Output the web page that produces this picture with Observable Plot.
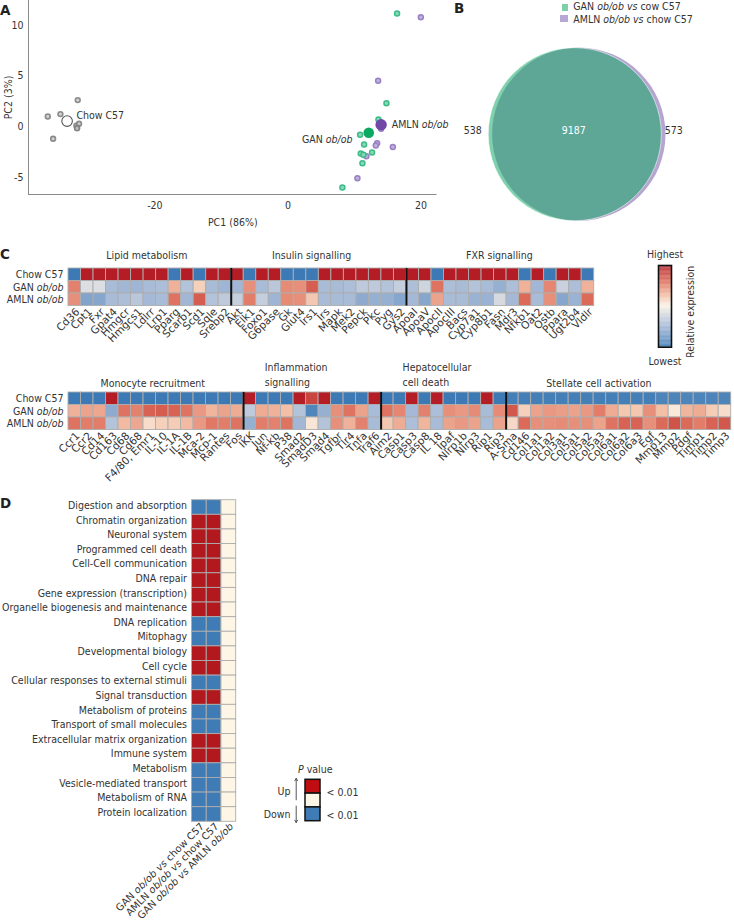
<!DOCTYPE html>
<html><head><meta charset="utf-8">
<script src="https://cdn.jsdelivr.net/npm/d3@7"></script>
<script src="https://cdn.jsdelivr.net/npm/@observablehq/plot@0.6"></script>
<style>
html,body{margin:0;padding:0;background:#fff}
#page{position:relative;width:734px;height:924px;overflow:hidden;color:#333;font-family:"DejaVu Sans Condensed","DejaVu Sans",sans-serif;font-size:10.5px}
#page svg{position:absolute;overflow:visible;background:transparent}
.abs{position:absolute;white-space:nowrap;line-height:1}
.letter{font-family:"DejaVu Sans",sans-serif;font-weight:700;font-size:13.5px;color:#222}
.sw{position:absolute}
</style></head><body><div id="page"></div>
<script>
const FONT='"DejaVu Sans Condensed","DejaVu Sans",sans-serif', FS=10.5, WIDE='"DejaVu Sans",sans-serif';
// Panel A
const chowX=[-36.1,-34.2,-31.6,-35.3,-31.7,-31.8,-31.4,-31.7];
const chowY=[1.02,1.25,2.63,-1.18,-0.1,0.1,0.3,-0.15];
const ganX=[16.4,14.8,13.6,10.84,11.44,10.94,11.34,12.64,11.19,8.18];
const ganY=[11.17,2.33,0.72,-0.79,-1.74,-2.63,-2.76,-2.53,-3.58,-5.98];
const amlnX=[19.97,13.55,13.4,13.2,15.76,11.79,10.44,14.0];
const amlnY=[10.8,4.53,-1.61,-1.84,-2.0,-2.89,-5.06,-0.2];
const meanX=[-33.2,12.14,14.0], meanY=[0.56,-0.59,0.2];
// Panel B
const vennSizes=[9725,9760], vennOnly=["538","9187","573"];
// Panel C
const rowNames=["Chow C57","GAN ob/ob","AMLN ob/ob"];
const genesTop=["Cd36","Cpt1","Fxr","Gpat4","Hmgcr","Hmgcs1","Ldlrr","Lrp1","Pparg","Scarb1","Scd1","Sqle","Srebp2","Akt","Elk1","Foxo1","G6pase","Gk","Glut4","Irs1","Irs","Mapk","Mek2","Pepck","Pkc","Pyg","Gys2","ApoaI","ApoaV","ApocII","ApocIII","Bacs","Cyp7a1","Cyp8b1","Fasn","Mdr3","Nfkb1","Oat2","Ostb","Ppara","Ugt2b4","Vldlr"];
const chowTop=[0,1,1,1,1,1,1,1,0,1,0,1,1,1,0,1,1,0,0,0,1,1,1,1,1,1,1,1,1,0,1,1,1,1,1,1,0,1,0,1,1,0];
const ganTop=[.75,.42,.42,.27,.25,.24,.27,.28,.65,.3,.58,.27,.24,.25,.72,.27,.32,.73,.72,.83,.27,.27,.28,.33,.33,.3,.35,.28,.38,.78,.28,.27,.3,.27,.22,.28,.65,.25,.74,.36,.28,.65];
const amlnTop=[.72,.17,.18,.27,.28,.32,.26,.27,.78,.25,.83,.3,.33,.35,.76,.35,.24,.73,.72,.6,.27,.27,.27,.2,.22,.22,.18,.26,.18,.68,.27,.27,.23,.23,.4,.26,.8,.27,.72,.18,.23,.8];
const genesBot=["Ccr1","Ccr2","Cd14","Cd163","Cd68","Cd68","F4/80, Emr1","IL-10","IL-1A","IL-1B","Mca-2","Mcp-1","Rantes","Fos","IKK","Jun","Nf-kb","P38","Smad2","SmadD3","Smad4","Tgfbr","Tlr4","Tnfa","Traf6","Aim2","Casp1","Casp3","Casp8","IL 18","Ipaf","Nlrp1b","Nlrp3","Rip1","Rip3","A-Sma","Cd146","Col1a1","Col1a2","Col3a1","Col5a1","Col5a2","Col5a3","Col6a1","Col6a2","Col6a3","Egf","Mmp13","Mmp2","Pdgf","Timp1","Timp2","Timp3"];
const chowBot=[0,0,0,1,0,0,0,0,0,0,0,0,0,0,1,0,0,0,1,.9,1,0,0,0,1,0,0,1,0,1,0,0,0,1,0,.02,.02,.02,.02,.02,.02,.02,.02,.02,.02,.02,.02,.04,.04,.04,.04,.04,.04];
const ganBot=[.65,.68,.67,.2,.78,.75,.82,.83,.82,.78,.7,.64,.68,.66,.33,.66,.65,.62,.3,.05,.22,.72,.78,.68,.27,.78,.74,.26,.75,.28,.72,.7,.73,.27,.73,.85,.58,.68,.7,.69,.68,.7,.76,.66,.6,.6,.72,.62,.52,.64,.66,.59,.55];
const amlnBot=[.78,.76,.76,.3,.63,.67,.55,.58,.59,.63,.7,.77,.76,.78,.22,.76,.75,.78,.25,.53,.3,.72,.65,.75,.27,.6,.66,.28,.64,.27,.68,.7,.68,.27,.68,.56,.8,.72,.72,.73,.72,.72,.68,.78,.82,.82,.72,.8,.86,.8,.76,.82,.85];
const colorStops=[0,.25,.5,.62,.8,1];
const colorRange=["#3d7ab5","#a2b7d6","#f9f1e6","#f3bfa6","#dc6a58","#b51d26"];
// Panel D
const pathways=["Digestion and absorption","Chromatin organization","Neuronal system","Programmed cell death","Cell-Cell communication","DNA repair","Gene expression (transcription)","Organelle biogenesis and maintenance","DNA replication","Mitophagy","Developmental biology","Cell cycle","Cellular responses to external stimuli","Signal transduction","Metabolism of proteins","Transport of small molecules","Extracellular matrix organization","Immune system","Metabolism","Vesicle-mediated transport","Metabolism of RNA","Protein localization"];
const comparisons=["GAN ob/ob vs chow C57","AMLN ob/ob vs chow C57","GAN ob/ob vs AMLN ob/ob"];
const ganVsChow=[-1,1,1,1,1,1,1,1,-1,-1,1,1,-1,1,-1,-1,1,1,-1,-1,-1,-1];
const amlnVsChow=[-1,1,1,1,1,1,1,1,-1,-1,1,1,-1,1,-1,-1,1,1,-1,-1,-1,-1];
const ganVsAmln=pathways.map(()=>0);
const pLevels=[1,0,-1], pColors=["#b2191e","#fdf6e6","#3f7cb6"];

const page=document.getElementById("page");
const NS="http://www.w3.org/2000/svg";
function ital(svg){
  svg.querySelectorAll("text,tspan").forEach(el=>{
    if(el.children.length) return;
    const t=el.textContent;
    if(!/(ob\/ob|\bvs\b)/.test(t)) return;
    el.textContent="";
    t.split(/(ob\/ob|\bvs\b)/).forEach(p=>{
      if(!p) return;
      const s=document.createElementNS(NS,"tspan");
      s.textContent=p;
      if(/^(ob\/ob|vs)$/.test(p)) s.setAttribute("font-style","italic");
      el.append(s);
    });
  });
}
function put(opts,left,top){
  const svg=Plot.plot({...opts,style:{fontFamily:FONT,fontSize:FS+"px",color:"#333",background:"transparent",overflow:"visible"}});
  svg.style.left=left+"px"; svg.style.top=top+"px";
  ital(svg); page.append(svg); return svg;
}
function html(cls,left,top,inner,extra=""){
  const d=document.createElement("div"); d.className=cls; d.style.cssText=`left:${left}px;top:${top}px;${extra}`; d.innerHTML=inner; page.append(d);
}
const zip=(xs,ys)=>xs.map((x,i)=>({x,y:ys[i]}));

// ---------- Panel A
put({
  width:734,height:230,marginLeft:28,marginRight:297.5,marginTop:0,marginBottom:36,
  x:{domain:[-39,22.4]},y:{domain:[-6.67,12.44]},
  marks:[
    Plot.ruleX([-39],{stroke:"#8a8a8a",strokeWidth:1}),
    Plot.ruleY([-6.67],{stroke:"#8a8a8a",strokeWidth:1}),
    Plot.axisX({ticks:[-20,0,20],tickFormat:d=>String(d),tickSize:0,tickPadding:7,label:"PC1 (86%)",labelAnchor:"center",labelArrow:"none",labelOffset:31}),
    Plot.axisY({ticks:[-5,0,5,10],tickFormat:d=>String(d),tickSize:0,tickPadding:5,label:"PC2 (3%)",labelAnchor:"center",labelArrow:"none",labelOffset:24}),
    Plot.dot(zip(chowX,chowY),{x:"x",y:"y",r:2.4,stroke:"#7f7f7f",strokeOpacity:.9,strokeWidth:1.6,fill:"#c8c8c8",fillOpacity:.8}),
    Plot.dot(zip(amlnX,amlnY),{x:"x",y:"y",r:2.5,fill:"#c0b0da",stroke:"#9a80c4",strokeWidth:1.5}),
    Plot.dot(zip(ganX,ganY),{x:"x",y:"y",r:2.5,fill:"#8ad8b8",stroke:"#3dbb88",strokeWidth:1.5}),
    Plot.dot(zip(meanX,meanY).slice(0,1),{x:"x",y:"y",r:5.3,stroke:"#555",strokeWidth:1.1,fill:"#fff"}),
    Plot.dot(zip(meanX,meanY).slice(1,2),{x:"x",y:"y",r:5.3,fill:"#0ba961"}),
    Plot.dot(zip(meanX,meanY).slice(2,3),{x:"x",y:"y",r:5.7,fill:"#6f48a8"}),
    Plot.text(["Chow C57"],{x:()=>-31.8,y:()=>1.1,textAnchor:"start"}),
    Plot.text(["AMLN ob/ob"],{x:()=>15.6,y:()=>0.2,textAnchor:"start"}),
    Plot.text(["GAN ob/ob"],{x:()=>2.1,y:()=>-1.25,textAnchor:"start"})
  ]
},0,0);

// ---------- Panel B
put({
  width:294,height:230,margin:0,
  x:{axis:null,domain:[-136.3,157.7]},y:{axis:null,domain:[-133.7,96.3],range:[0,230]},
  r:{domain:[0,9760],range:[0,86.7]},
  marks:[
    Plot.dot([{x:2,s:vennSizes[1]}],{x:"x",y:()=>0,r:"s",fill:"#b5a5d0"}),
    Plot.dot([{x:-2,s:vennSizes[0]}],{x:"x",y:()=>0,r:"s",fill:"#16a968",fillOpacity:.55,stroke:"#fff",strokeOpacity:.7,strokeWidth:.8}),
    Plot.text([vennOnly[0]],{x:()=>-104,y:()=>-4}),
    Plot.text([vennOnly[1]],{x:()=>-3,y:()=>-4,fill:"#fff"}),
    Plot.text([vennOnly[2]],{x:()=>97,y:()=>-4})
  ]
},440,0);
html("abs letter",454,2,"B");
html("abs letter",0,3.5,"A");
html("abs letter",0,248,"C");
html("abs letter",0,497,"D");
html("sw",561.7,4,"","width:6.6px;height:7px;background:#7dd0aa");
html("sw",560,15,"","width:8px;height:7px;background:#b7a7d4");
html("abs",573.3,0.5,"GAN <i>ob/ob</i> <i>vs</i> cow C57");
html("abs",573.3,14,"AMLN <i>ob/ob</i> <i>vs</i> chow C57");

// ---------- Panel C
function heat(names,rows,opts,extra){
  const data=[];
  rows.forEach((r,j)=>r.forEach((v,i)=>data.push({i,row:rowNames[j],v})));
  return {
    width:734,...opts,
    x:{type:"band",domain:d3.range(names.length),padding:0,round:false},
    y:{type:"band",domain:rowNames,padding:0,round:false},
    color:{type:"linear",domain:colorStops,range:colorRange},
    marks:[
      Plot.cell(data,{x:"i",y:"row",fill:"v",stroke:"#adadad",strokeWidth:.9}),
      Plot.axisX({tickFormat:i=>names[i],tickRotate:-45,tickSize:0,tickPadding:4,textAnchor:"end",lineAnchor:"middle",dx:3,label:null,fontFamily:WIDE,fontSize:10.6}),
      Plot.axisY({tickSize:0,tickPadding:5,label:null}),
      ...extra
    ]
  };
}
const divider=i=>Plot.ruleX([i],{x:d=>d,dx:-6.25,stroke:"#111",strokeWidth:2});
const title=(t,i,dx,dy,anchor="middle")=>Plot.text([t],{x:()=>i,frameAnchor:"top",lineAnchor:"middle",dx,dy,textAnchor:anchor,lineHeight:1.44});
put(heat(genesTop,[chowTop,ganTop,amlnTop],{height:110,marginLeft:68,marginRight:140.3,marginTop:28,marginBottom:44.5},[
  divider(13),divider(27),
  title("Lipid metabolism",6,-3,-14),
  title("Insulin signalling",19,-1,-14),
  title("FXR signalling",34,-1,-14)
]),0,240);
put(heat(genesBot,[chowBot,ganBot,amlnBot],{height:115,marginLeft:68,marginRight:3.3,marginTop:37,marginBottom:40.5},[
  divider(14),divider(25),divider(35),
  title("Monocyte recruitment",6,3,-10),
  title("Inflammation\nsignalling",15,2.5,-18.5,"start"),
  title("Hepatocellular\ncell death",26,2.75,-18.5,"start"),
  title("Stellate cell activation",42,-1,-10)
]),0,355);

// colour bar
put({
  width:90,height:130,marginLeft:38,marginRight:39,marginTop:25,marginBottom:23.3,
  x:{axis:null,domain:[0,1]},y:{axis:null,domain:[0,1]},
  color:{type:"linear",domain:colorStops,range:colorRange},
  marks:[
    Plot.rect(d3.range(0,1,.01),{x1:()=>0,x2:()=>1,y1:d=>d,y2:d=>d+.0105,fill:d=>d}),
    Plot.frame({stroke:"#111",strokeWidth:1.6}),
    Plot.text(["Highest"],{frameAnchor:"top",lineAnchor:"middle",dy:-11}),
    Plot.text(["Lowest"],{frameAnchor:"bottom",lineAnchor:"middle",dy:14}),
    Plot.text(["Relative expression"],{frameAnchor:"right",textAnchor:"middle",lineAnchor:"middle",rotate:-90,dx:19,dy:5.4})
  ]
},620,240);

// ---------- Panel D
const dData=[];
pathways.forEach((p,j)=>{[ganVsChow,amlnVsChow,ganVsAmln].forEach((c,i)=>dData.push({p,c:comparisons[i],v:c[j]}));});
put({
  width:240,height:380,marginLeft:191.5,marginRight:4.3,marginTop:9.7,marginBottom:48.7,
  x:{type:"band",domain:comparisons,padding:0,round:false},
  y:{type:"band",domain:pathways,padding:0,round:false},
  color:{type:"ordinal",domain:pLevels,range:pColors},
  marks:[
    Plot.cell(dData,{x:"c",y:"p",fill:"v",stroke:"#adadad",strokeWidth:.9}),
    Plot.axisX({tickRotate:-45,tickSize:0,tickPadding:3,textAnchor:"end",lineAnchor:"middle",dx:3,label:null,fontFamily:WIDE,fontSize:10}),
    Plot.axisY({tickSize:0,tickPadding:5,label:null,dy:-2})
  ]
},0,490);

// legend of panel D
put({
  width:110,height:70,marginLeft:50,marginRight:45,marginTop:19.3,marginBottom:9.3,
  x:{axis:null,domain:[0,1]},y:{axis:null,domain:[3,0]},
  color:{type:"ordinal",domain:pLevels,range:["#c00d12","#fdf6e6","#3f7cb6"]},
  marks:[
    Plot.rect(pLevels,{x1:()=>0,x2:()=>1,y1:(d,i)=>i,y2:(d,i)=>i+1,fill:d=>d,stroke:"#111",strokeWidth:1.5}),
    Plot.arrow([0],{x1:()=>-.62,x2:()=>-.62,y1:()=>1.45,y2:()=>-.1,stroke:"#555",strokeWidth:1,headLength:4}),
    Plot.arrow([0],{x1:()=>-.62,x2:()=>-.62,y1:()=>1.9,y2:()=>3.1,stroke:"#555",strokeWidth:1,headLength:4}),
    Plot.text(["Up"],{x:()=>-1,y:()=>.85,textAnchor:"end"}),
    Plot.text(["Down"],{x:()=>-1,y:()=>2.55,textAnchor:"end"}),
    Plot.text(["< 0.01"],{x:()=>1.4,y:()=>.95,textAnchor:"start"}),
    Plot.text(["< 0.01"],{x:()=>1.4,y:()=>2.6,textAnchor:"start"})
  ]
},255,760);
html("abs",298,764,"<i>P</i> value");
</script></body></html>
